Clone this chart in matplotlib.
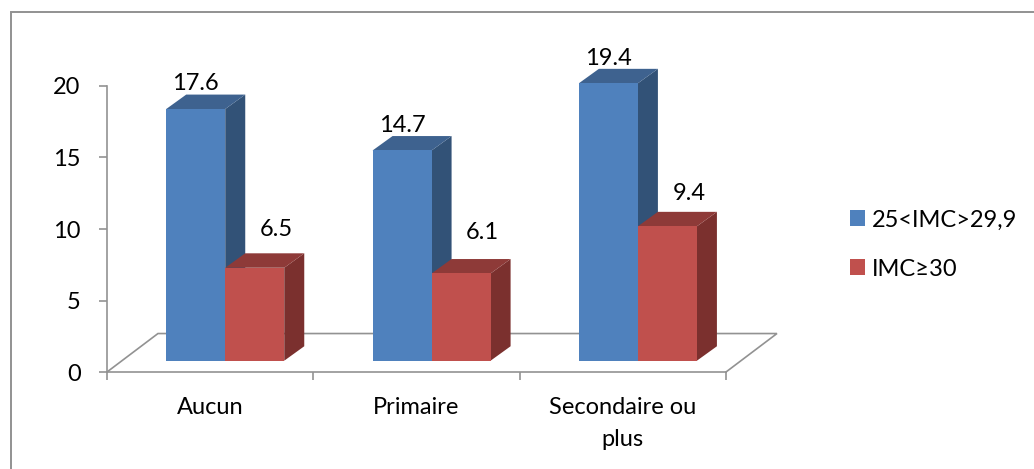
import matplotlib
matplotlib.use('Agg')
import matplotlib.pyplot as plt
from matplotlib.lines import Line2D
from matplotlib.patches import Polygon, Patch, Rectangle

plt.rcParams['font.family'] = ['Lato', 'DejaVu Sans']

categories = ['Aucun', 'Primaire', 'Secondaire ou\nplus']
surpoids = [17.6, 14.7, 19.4]
obesite = [6.5, 6.1, 9.4]
series_names = ['25<IMC>29,9', 'IMC≥30']
y_ticks = [0, 5, 10, 15, 20]

# height of the labels above the top of each bar, in data units
surpoids_gap = [0.35, 0.3, 0.3]
obesite_gap = [1.2, 1.4, 0.8]

W, H = 1034, 469
GRAY = '#929292'
LW = 1.2

# depth of the fake 3D bars and of the floor, in data units
depth_x, depth_y = 0.097, 1.01
floor_x, floor_y = 0.247, 2.69
base_y = 0.79
bar_left = 0.287
bar_w = 0.286

fig = plt.figure(figsize=(W / 100, H / 100), dpi=100)
fig.patch.set_facecolor('white')

# outer frame, only the left and top edges show
fig.add_artist(Line2D([10.5 / W, 10.5 / W, 1], [0, 1 - 12 / H, 1 - 12 / H], transform=fig.transFigure,
                      color=GRAY, linewidth=1.4, solid_joinstyle='miter'))

ax = fig.add_axes([107 / W, 1 - 372 / H, 619 / W, 286 / H])
ax.set_xlim(0, 3)
ax.set_ylim(0, 20)
ax.patch.set_visible(False)
for side in ['top', 'right']:
    ax.spines[side].set_visible(False)
for side in ['left', 'bottom']:
    ax.spines[side].set_color(GRAY)
    ax.spines[side].set_linewidth(LW)

ax.set_yticks(y_ticks)
ax.tick_params(axis='y', length=6, width=LW, color=GRAY, labelsize=17, pad=13)
ax.set_xticks([0, 1, 2, 3])
ax.set_xticklabels([])
ax.tick_params(axis='x', length=6, width=LW, color=GRAY)

# floor outline
ax.plot([0, floor_x, 3 + floor_x, 3], [0, floor_y, floor_y, 0], color=GRAY, lw=LW,
        clip_on=False, zorder=1, solid_joinstyle='miter')


def bar3d(x, value, front, top, side):
    y0 = base_y
    y1 = base_y + value
    ax.add_patch(Polygon([(x + bar_w, y0), (x + bar_w + depth_x, y0 + depth_y),
                          (x + bar_w + depth_x, y1 + depth_y), (x + bar_w, y1)],
                         facecolor=side, edgecolor='none', clip_on=False, zorder=2))
    ax.add_patch(Polygon([(x, y1), (x + depth_x, y1 + depth_y),
                          (x + bar_w + depth_x, y1 + depth_y), (x + bar_w, y1)],
                         facecolor=top, edgecolor='none', clip_on=False, zorder=2))
    ax.add_patch(Rectangle((x, y0), bar_w, value, facecolor=front, edgecolor='none',
                           clip_on=False, zorder=3))
    return y1 + depth_y


for i, name in enumerate(categories):
    x_blue = i + bar_left
    x_red = x_blue + bar_w
    top_blue = bar3d(x_blue, surpoids[i], '#4f81bd', '#3e628f', '#325277')
    top_red = bar3d(x_red, obesite[i], '#c0504d', '#8e3a38', '#7b302e')
    ax.text(x_blue + bar_w / 2, top_blue + surpoids_gap[i], f'{surpoids[i]}', ha='center', va='baseline',
            fontsize=17, zorder=5)
    ax.text(x_red + bar_w / 2 + 0.105, top_red + obesite_gap[i], f'{obesite[i]}', ha='center', va='baseline',
            fontsize=17, zorder=5)
    ax.text(i + 0.5, -1.75, name, ha='center', va='top', fontsize=17, linespacing=1.62)

handles = [Patch(facecolor='#4f81bd', label=series_names[0]),
           Patch(facecolor='#c0504d', label=series_names[1])]
fig.legend(handles=handles, loc='center left', bbox_to_anchor=(850 / W, 1 - 244.5 / H), frameon=False,
           fontsize=17, handlelength=0.635, handleheight=0.635, handletextpad=0.3,
           labelspacing=1.19, borderpad=0, borderaxespad=0)

fig.savefig('out.png', dpi=100)
